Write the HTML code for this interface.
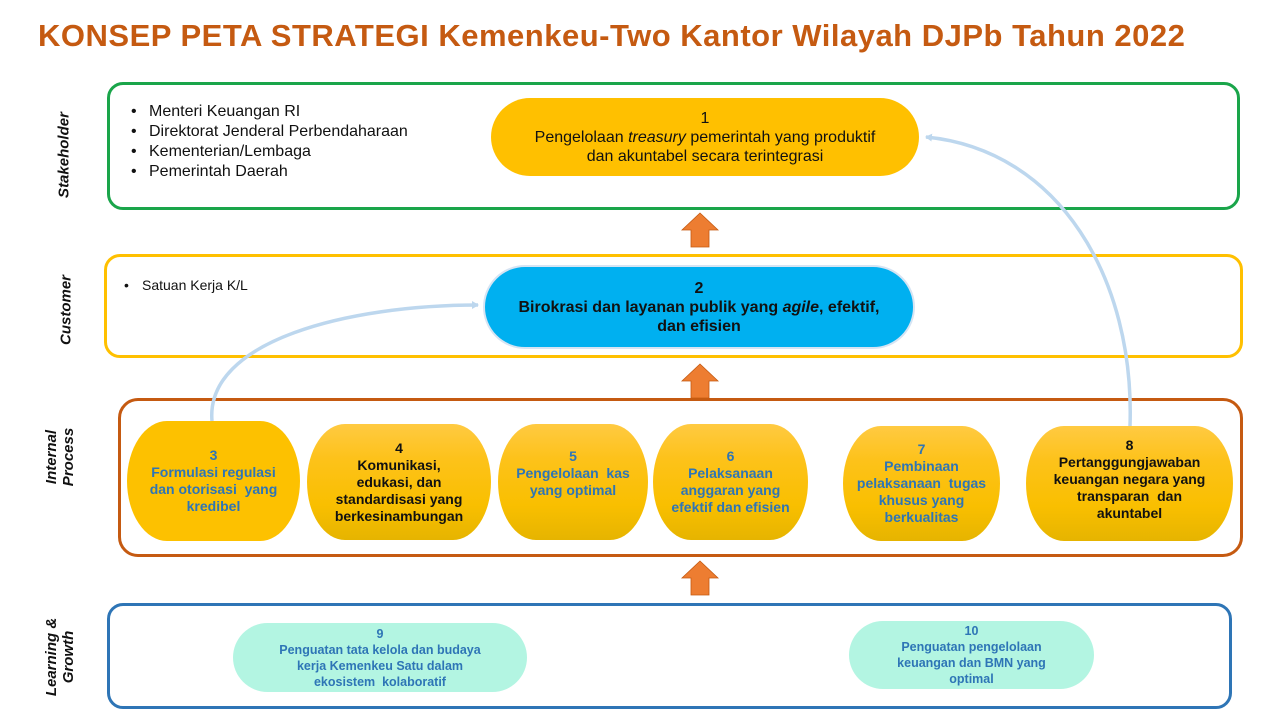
<!DOCTYPE html>
<html><head><meta charset="utf-8"><style>
*{margin:0;padding:0;box-sizing:border-box}
body{width:1280px;height:720px;background:#fff;position:relative;overflow:hidden;font-family:"Liberation Sans",sans-serif}
.a{position:absolute}
.box{position:absolute;border:3px solid;border-radius:16px}
.side{position:absolute;transform:translate(-50%,-50%) rotate(-90deg);font-style:italic;font-weight:bold;font-size:15px;text-align:center;line-height:17px;white-space:nowrap;color:#111}
.node{position:absolute;display:flex;align-items:center;justify-content:center;text-align:center;font-weight:bold;font-size:14px;line-height:17px}
.g{background:linear-gradient(#ffca42 0%,#fdc21a 30%,#f9bf00 70%,#e6b400 100%);border-radius:38px/50%}
.blue{color:#2e75b6}
ul{list-style:none}
li{position:relative;padding-left:20px}
li:before{content:"•";position:absolute;left:2px}
</style></head><body>
<div class="a" style="left:38px;top:18px;font-size:31px;font-weight:bold;color:#c55a11;white-space:nowrap;letter-spacing:0.5px">KONSEP PETA STRATEGI Kemenkeu-Two Kantor Wilayah DJPb Tahun 2022</div>

<div class="box" style="left:107px;top:82px;width:1133px;height:128px;border-color:#1aa54a"></div>
<div class="box" style="left:104px;top:254px;width:1139px;height:104px;border-color:#ffc000"></div>
<div class="box" style="left:118px;top:398px;width:1125px;height:159px;border-color:#c55a11;border-radius:20px"></div>
<div class="box" style="left:107px;top:603px;width:1125px;height:106px;border-color:#2e75b6"></div>

<div class="side" style="left:64px;top:155px">Stakeholder</div>
<div class="side" style="left:66px;top:310px">Customer</div>
<div class="side" style="left:60px;top:457px">Internal<br>Process</div>
<div class="side" style="left:60px;top:657px">Learning &amp;<br>Growth</div>

<ul class="a" style="left:129px;top:102px;font-size:16px;line-height:20px;color:#111">
<li>Menteri Keuangan RI</li><li>Direktorat Jenderal Perbendaharaan</li><li>Kementerian/Lembaga</li><li>Pemerintah Daerah</li></ul>
<ul class="a" style="left:122px;top:276px;font-size:14px;line-height:18px;color:#111"><li>Satuan Kerja K/L</li></ul>

<div class="node" style="left:491px;top:98px;width:428px;height:78px;background:#ffc000;border-radius:39px;font-weight:normal;font-size:16px;line-height:19px;color:#111"><div>1<br>Pengelolaan <i>treasury</i> pemerintah yang produktif<br>dan akuntabel secara terintegrasi</div></div>
<div class="node" style="left:483px;top:265px;width:432px;height:84px;background:#00b0f0;border:2px solid #d6e4f3;border-radius:42px;font-size:16px;line-height:19px;color:#111"><div>2<br>Birokrasi dan layanan publik yang <i>agile</i>, efektif,<br>dan efisien</div></div>

<div class="node" style="left:127px;top:421px;width:173px;height:120px;background:#fdc100;border-radius:40px/50%"><div class="blue">3<br>Formulasi regulasi<br>dan otorisasi&nbsp; yang<br>kredibel</div></div>
<div class="node g" style="left:307px;top:424px;width:184px;height:116px;color:#111"><div>4<br>Komunikasi,<br>edukasi, dan<br>standardisasi yang<br>berkesinambungan</div></div>
<div class="node g" style="left:498px;top:424px;width:150px;height:116px;padding-bottom:18px"><div class="blue">5<br>Pengelolaan&nbsp; kas<br>yang optimal</div></div>
<div class="node g" style="left:653px;top:424px;width:155px;height:116px"><div class="blue">6<br>Pelaksanaan<br>anggaran yang<br>efektif dan efisien</div></div>
<div class="node g" style="left:843px;top:426px;width:157px;height:115px"><div class="blue">7<br>Pembinaan<br>pelaksanaan&nbsp; tugas<br>khusus yang<br>berkualitas</div></div>
<div class="node g" style="left:1026px;top:426px;width:207px;height:115px;color:#111;padding-bottom:8px"><div>8<br>Pertanggungjawaban<br>keuangan negara yang<br>transparan&nbsp; dan<br>akuntabel</div></div>

<div class="node" style="left:233px;top:623px;width:294px;height:69px;background:#b3f5e2;border-radius:35px;font-size:12.5px;line-height:16px"><div class="blue">9<br>Penguatan tata kelola dan budaya<br>kerja Kemenkeu Satu dalam<br>ekosistem&nbsp; kolaboratif</div></div>
<div class="node" style="left:849px;top:621px;width:245px;height:68px;background:#b3f5e2;border-radius:34px;font-size:12.5px;line-height:16px"><div class="blue">10<br>Penguatan pengelolaan<br>keuangan dan BMN yang<br>optimal</div></div>

<svg class="a" style="left:0;top:0" width="1280" height="720">
<defs><marker id="m" markerWidth="8" markerHeight="8" refX="6" refY="4" orient="auto" markerUnits="userSpaceOnUse"><path d="M0,0 L7,4 L0,8 Z" fill="#bdd7ee"/></marker></defs>
<path d="M212,421 C205,340 350,305 478,305" fill="none" stroke="#bdd7ee" stroke-width="3.5" marker-end="url(#m)"/>
<path d="M1130,426 C1135,280 1060,150 926,137" fill="none" stroke="#bdd7ee" stroke-width="3.5" marker-end="url(#m)"/>
<g fill="#ed7d31" stroke="#c55a11" stroke-width="0.8">
<path d="M700,213 L718,230 L709,230 L709,247 L691,247 L691,230 L682,230 Z"/>
<path d="M700,364 L718,381 L709,381 L709,398 L691,398 L691,381 L682,381 Z"/>
<path d="M700,561 L718,578 L709,578 L709,595 L691,595 L691,578 L682,578 Z"/>
</g>
</svg>
</body></html>
